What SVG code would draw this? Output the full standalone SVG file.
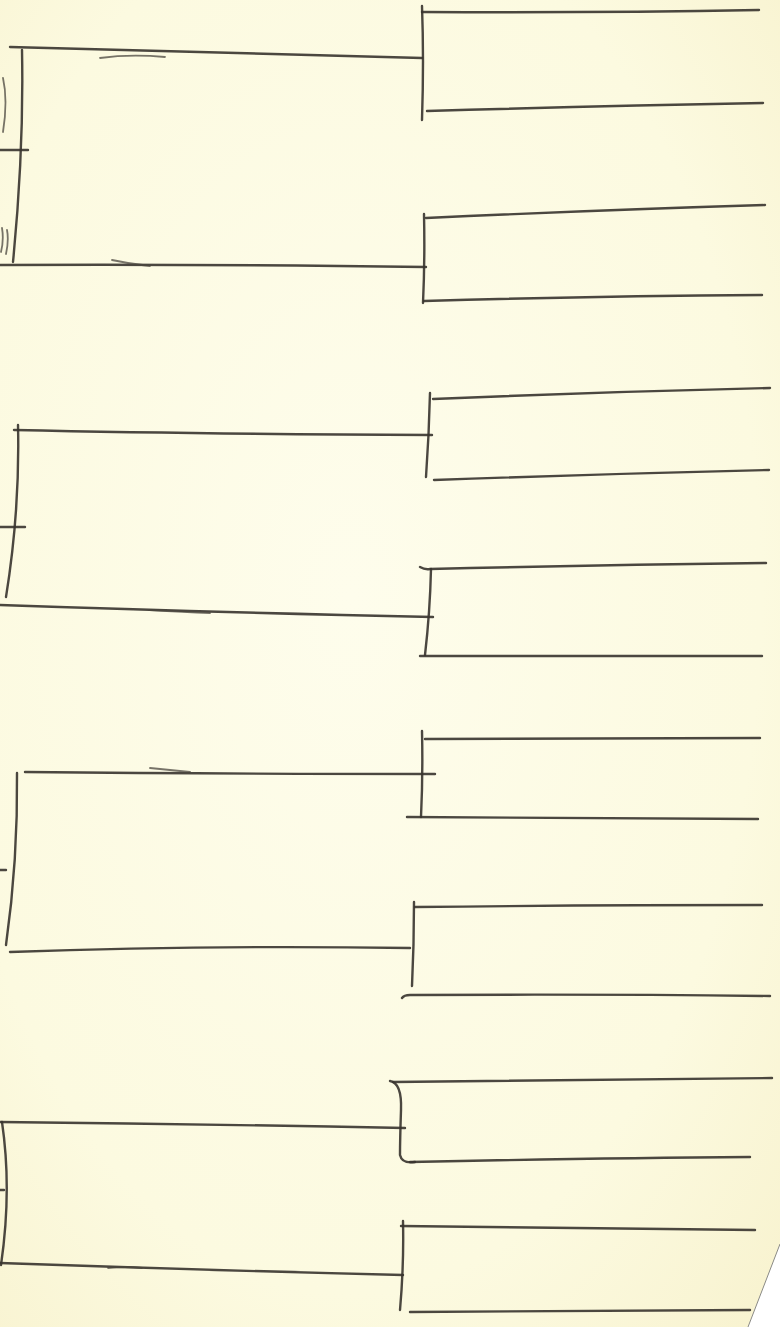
<svg xmlns="http://www.w3.org/2000/svg" width="780" height="1327" viewBox="0 0 780 1327">
<style>
.p{fill:none;stroke:#37332d;stroke-width:2.4;stroke-linecap:round;stroke-linejoin:round;opacity:0.9}
.f{fill:none;stroke:#4a463e;stroke-width:1.8;stroke-linecap:round;opacity:0.75}
</style>
<defs>
<radialGradient id="paper" cx="0.45" cy="0.45" r="0.75">
<stop offset="0" stop-color="#fefdec"/>
<stop offset="0.7" stop-color="#fcfae0"/>
<stop offset="1" stop-color="#f8f3d0"/>
</radialGradient>
</defs>
<rect x="0" y="0" width="780" height="1327" fill="url(#paper)"/>
<polygon points="780,1244 748,1327 780,1327" fill="#ffffff"/>
<path d="M780,1244 L748,1327" stroke="#8a8a86" stroke-width="1" fill="none"/>

<g id="connectors">
<!-- round 1 brackets (right column) -->
<g id="r1-m1">
<path class="p" d="M422,6 Q424,60 422,120"/>
<path class="p" d="M422,12 Q600,13 759,10"/>
<path class="p" d="M427,111 Q600,106 763,103"/>
</g>
<g id="r1-m2">
<path class="p" d="M424,214 Q425,260 423,303"/>
<path class="p" d="M426,218 Q600,210 765,205"/>
<path class="p" d="M424,301 Q600,296 762,295"/>
</g>
<g id="r1-m3">
<path class="p" d="M430,393 Q429,435 426,477"/>
<path class="p" d="M433,399 Q600,392 770,388"/>
<path class="p" d="M434,480 Q600,474 769,470"/>
</g>
<g id="r1-m4">
<path class="p" d="M431,569 Q430,612 425,655"/>
<path class="p" d="M420,567 Q425,570 430,569 Q600,565 766,563"/>
<path class="p" d="M420,656 Q600,656 762,656"/>
</g>
<g id="r1-m5">
<path class="p" d="M422,731 Q423,775 421,817"/>
<path class="p" d="M425,739 Q600,738 760,738"/>
<path class="p" d="M407,817 Q600,818 758,819"/>
</g>
<g id="r1-m6">
<path class="p" d="M414,902 Q414,945 412,986"/>
<path class="p" d="M415,907 Q600,905 762,905"/>
<path class="p" d="M402,998 Q404,995 410,995 Q600,994 770,996"/>
</g>
<g id="r1-m7">
<path class="p" d="M390,1081 Q402,1083 401,1110 Q400,1140 400,1155 Q402,1164 415,1162"/>
<path class="p" d="M393,1082 Q600,1080 772,1078"/>
<path class="p" d="M410,1162 Q600,1158 750,1157"/>
</g>
<g id="r1-m8">
<path class="p" d="M403,1221 Q404,1265 400,1310"/>
<path class="p" d="M401,1226 Q600,1229 755,1230"/>
<path class="p" d="M410,1312 Q600,1311 750,1310"/>
</g>

<!-- round 2 brackets (left column) -->
<g id="r2-m1">
<path class="p" d="M22,50 Q24,150 13,262"/>
<path class="p" d="M10,47 Q200,52 422,58"/>
<path class="f" d="M100,58 Q130,54 165,57"/>
<path class="p" d="M0,265 Q200,264 426,267"/>
<path class="f" d="M112,260 Q130,264 150,266"/>
<path class="p" d="M0,150 L28,150"/>
<path class="f" d="M3,78 Q8,100 3,132"/>
<path class="f" d="M2,228 Q4,240 1,252 M7,230 Q9,240 6,254"/>
</g>
<g id="r2-m2">
<path class="p" d="M18,425 Q20,510 6,597"/>
<path class="p" d="M14,430 Q200,434 432,435"/>
<path class="p" d="M0,527 L25,527"/>
<path class="p" d="M0,605 Q200,612 433,617"/>
<path class="f" d="M150,610 Q185,612 210,613"/>
</g>
<g id="r2-m3">
<path class="p" d="M17,773 Q18,860 6,945"/>
<path class="p" d="M25,772 Q220,774 435,774"/>
<path class="f" d="M150,768 Q170,770 190,772"/>
<path class="p" d="M0,870 L6,870"/>
<path class="p" d="M10,952 Q200,945 410,948"/>
</g>
<g id="r2-m4">
<path class="p" d="M2,1122 Q12,1190 1,1265"/>
<path class="p" d="M0,1122 Q200,1124 405,1128"/>
<path class="p" d="M0,1263 Q200,1270 403,1275"/>
<path class="f" d="M108,1268 Q125,1266 142,1268"/>
<path class="p" d="M0,1190 L4,1190"/>
</g>
</g>
</svg>
